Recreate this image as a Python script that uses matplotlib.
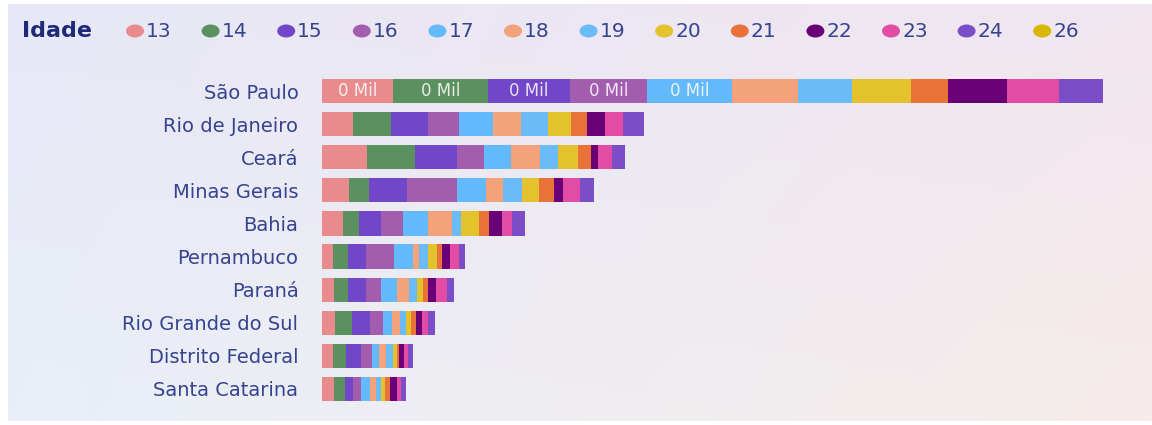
import numpy as np
import matplotlib
matplotlib.use("Agg")
import matplotlib.pyplot as plt
from matplotlib.patches import Ellipse
from matplotlib.colors import to_rgb

# data: population by age and state (rough counts)
states = ["São Paulo", "Rio de Janeiro", "Ceará", "Minas Gerais", "Bahia",
          "Pernambuco", "Paraná", "Rio Grande do Sul", "Distrito Federal",
          "Santa Catarina"]
ages = ["13", "14", "15", "16", "17", "18", "19", "20", "21", "22", "23", "24", "26"]

idade_13 = [71, 31, 45, 27, 21, 11, 12, 13, 11, 12]
idade_14 = [95, 38, 48, 20, 16, 15, 14, 17, 13, 11]
idade_15 = [82, 37, 42, 38, 22, 18, 18, 18, 15, 8]
idade_16 = [77, 31, 27, 50, 22, 28, 15, 13, 11, 8]
idade_17 = [85, 34, 27, 29, 25, 19, 16, 9, 7, 9]
idade_18 = [66, 28, 29, 17, 24, 6, 12, 8, 7, 6]
idade_19 = [54, 27, 18, 19, 9, 9, 8, 6, 7, 5]
idade_20 = [59, 23, 20, 17, 18, 9, 6, 5, 4, 4]
idade_21 = [37, 16, 13, 15, 10, 5, 5, 5, 2, 5]
idade_22 = [59, 18, 7, 9, 13, 8, 8, 6, 5, 7]
idade_23 = [52, 18, 14, 17, 10, 9, 11, 6, 4, 4]
idade_24 = [44, 21, 13, 14, 13, 6, 7, 7, 5, 5]
idade_26 = [0, 0, 0, 0, 0, 0, 0, 0, 0, 0]

series = [idade_13, idade_14, idade_15, idade_16, idade_17, idade_18, idade_19,
          idade_20, idade_21, idade_22, idade_23, idade_24, idade_26]

colors = ["#E98A8C", "#5B9160", "#7146C9", "#A35DAF", "#62B9FB", "#F3A27C",
          "#6ABBF6", "#E3C22E", "#E97238", "#6A0078", "#E24CA5", "#7B4DC6",
          "#D9B600"]

text_color = "#36438F"

fig = plt.figure(figsize=(11.52, 4.25), dpi=100)
fig.patch.set_facecolor("white")

# soft gradient background
bg = fig.add_axes([8 / 1152, 4 / 425, 1 - 8 / 1152, 1 - 8 / 425], zorder=0)
tl, tr = np.array(to_rgb("#E7E8F6")), np.array(to_rgb("#F1E6EF"))
bl, br = np.array(to_rgb("#E9EFF8")), np.array(to_rgb("#F6ECEA"))
u = np.linspace(0, 1, 200)[None, :, None]
v = np.linspace(0, 1, 80)[:, None, None]
grad = (1 - v) * ((1 - u) * tl + u * tr) + v * ((1 - u) * bl + u * br)
bg.imshow(grad, aspect="auto", extent=[0, 1, 0, 1], origin="upper")
bg.axis("off")

# bars
ax = fig.add_axes([322 / 1152, 19.5 / 425, 810 / 1152, 331 / 425], zorder=1)
ax.patch.set_alpha(0)
y = np.arange(len(states))
left = np.zeros(len(states))
for age, vals, c in zip(ages, series, colors):
    vals = np.array(vals, dtype=float)
    ax.barh(y, vals, left=left, height=0.73, color=c, linewidth=0)
    for yi, (l, w) in enumerate(zip(left, vals)):
        if w >= 70:
            ax.text(l + w / 2, yi, f"{round(w / 1000)} Mil", ha="center",
                    va="center", color="white", alpha=0.85, fontsize=12)
    left += vals

ax.set_xlim(0, 810)
ax.set_ylim(len(states) - 0.5, -0.5)
ax.set_yticks(y)
ax.set_yticklabels(states, fontsize=14, color=text_color)
ax.tick_params(axis="y", length=0, pad=17)
ax.set_xticks([])
for s in ax.spines.values():
    s.set_visible(False)

# legend row
lg = fig.add_axes([0, 0, 1, 1], zorder=2)
lg.set_xlim(0, 1152)
lg.set_ylim(425, 0)
lg.axis("off")
lg.text(22, 31, "Idade", fontsize=16, fontweight="heavy", color="#1E2A78",
        va="center", ha="left")
x0, step = 135, 75.6
for i, (age, c) in enumerate(zip(ages, colors)):
    cx = x0 + i * step
    lg.add_patch(Ellipse((cx, 31), 18, 13, color=c, linewidth=0))
    lg.text(cx + 11, 31, age, fontsize=14.5, color=text_color, va="center",
            ha="left")

fig.savefig("out.png", dpi=100)
